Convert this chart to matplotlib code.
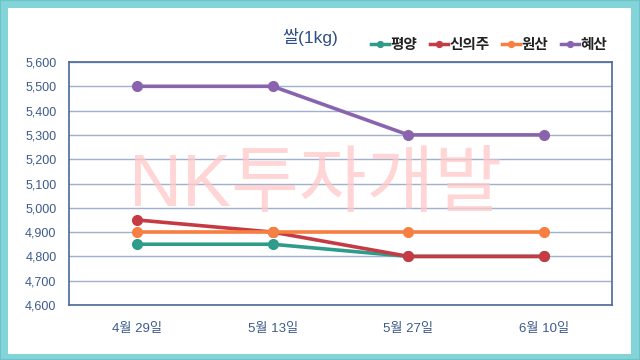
import matplotlib
matplotlib.use("Agg")
import matplotlib.pyplot as plt
from matplotlib.patches import Rectangle

plt.rcParams['font.family'] = ['Liberation Sans', 'Noto Sans CJK KR', 'DejaVu Sans']

categories = ["4월 29일", "5월 13일", "5월 27일", "6월 10일"]
series_names = ["평양", "신의주", "원산", "혜산"]
pyongyang = [4850, 4850, 4800, 4800]
sinuiju = [4950, 4900, 4800, 4800]
wonsan = [4900, 4900, 4900, 4900]
hyesan = [5500, 5500, 5300, 5300]
colors = ["#2E9B8B", "#C63A43", "#F77F42", "#8A63AE"]
yticks = list(range(4600, 5601, 100))

fig = plt.figure(figsize=(6.4, 3.6), dpi=100)
fig.patch.set_facecolor("white")
# teal frame
fig.add_artist(Rectangle((0, 0), 1, 1, transform=fig.transFigure, facecolor="#83D4D8",
                         edgecolor="#6CC3C8", lw=1.5, zorder=-10))
fig.add_artist(Rectangle((8/640, 6/360), (631-8)/640, (352-6)/360, transform=fig.transFigure,
                         facecolor="white", edgecolor="none", zorder=-9))

ax = fig.add_axes([69/640, 1-305/360, (612-69)/640, (305-62)/360])
ax.set_facecolor("none")
x = list(range(len(categories)))
for name, vals, c in zip(series_names, [pyongyang, sinuiju, wonsan, hyesan], colors):
    ax.plot(x, vals, color=c, lw=2.6, marker='o', markersize=7, label=name, zorder=3)

ax.set_xlim(-0.5, len(categories)-0.5)
ax.set_ylim(4600, 5600)
ax.set_yticks(yticks)
ax.set_yticklabels([f"{v:,}" for v in yticks])
ax.set_xticks(x)
ax.set_xticklabels(categories)
ax.tick_params(axis='y', length=0, labelsize=9, colors="#3D5A8C", pad=9)
ax.tick_params(axis='x', length=0, labelsize=9.5, colors="#3D5A8C", pad=13)
ax.grid(axis='y', color="#9EB1CF", lw=1)
ax.set_axisbelow(True)
for s in ax.spines.values():
    s.set_color("#4A6896")
    s.set_linewidth(1.2)

fig.text(310/640, 1-37/360, "쌀(1kg)", ha='center', va='center', fontsize=12.5, color="#2F4F86")
fig.text(316/640, 1-186/360, "NK투자개발", ha='center', va='center', fontsize=53,
         color="#FFC8C8", alpha=0.75, zorder=5)

leg = fig.legend(loc='center right', bbox_to_anchor=(620/640, 1-45/360), ncol=4, frameon=False,
                 fontsize=10.5, handlelength=1.2, handletextpad=0.1, columnspacing=0.9,
                 markerscale=0.6)
for t in leg.get_texts():
    t.set_fontweight('bold')
    t.set_color("#222222")
for h in leg.legend_handles:
    h.set_linewidth(2.5)

fig.savefig("out.png", dpi=100)
